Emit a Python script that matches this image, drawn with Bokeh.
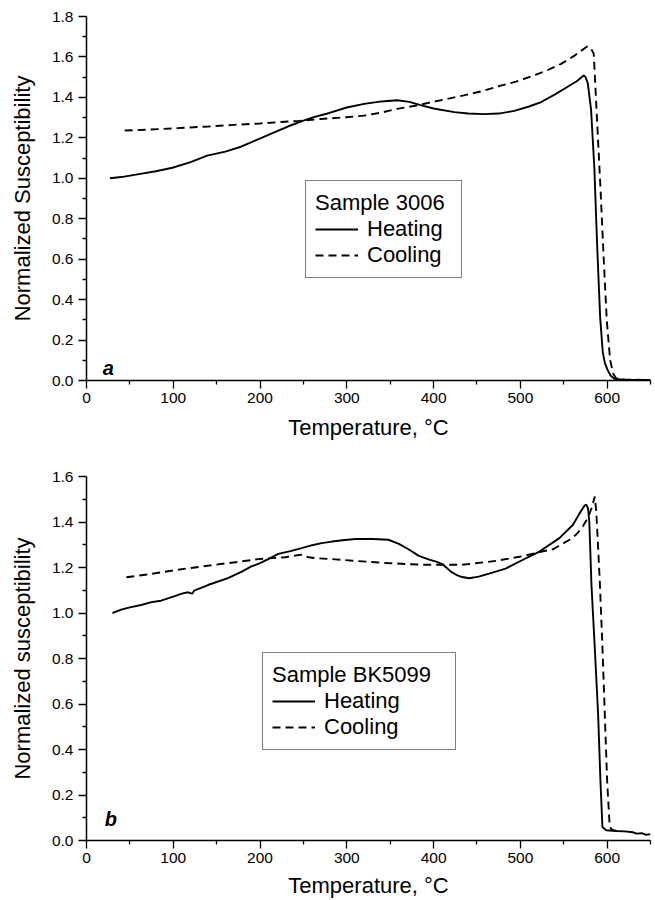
from bokeh.plotting import figure
from bokeh.models import Legend, LegendItem, Label, FixedTicker, PrintfTickFormatter
from bokeh.layouts import column
from bokeh.embed import file_html
from bokeh.resources import INLINE

# ---------------- Data: panel a (Sample 3006) ----------------
a_heat_T = [27, 40, 62, 80, 99, 120, 139, 160, 178, 199, 215, 232, 250, 262, 280, 300,
            320, 340, 358, 372, 385, 400, 424, 440, 458, 475, 493, 510, 524, 540, 555, 565,
            573, 575, 577.7, 581.5, 585.3, 588.4, 592, 595, 597.5, 600.8, 604, 608.4, 620, 650]
a_heat_y = [1.000, 1.006, 1.022, 1.035, 1.052, 1.080, 1.112, 1.132, 1.156, 1.195, 1.225,
            1.256, 1.285, 1.302, 1.323, 1.350, 1.368, 1.380, 1.386, 1.378, 1.362, 1.345,
            1.327, 1.320, 1.317, 1.320, 1.333, 1.355, 1.377, 1.415, 1.454, 1.480, 1.508,
            1.502, 1.470, 1.340, 1.050, 0.680, 0.310, 0.140, 0.085, 0.050, 0.025, 0.008,
            0.004, 0.003]

a_cool_T = [44, 70, 105, 140, 170, 200, 220, 245, 270, 300, 320, 340, 358, 380, 397, 415,
            435, 455, 474, 495, 512, 530, 547, 562, 577, 581, 584.6, 588.4, 592.3, 595.8,
            599.6, 603.5, 607, 610, 620, 650]
a_cool_y = [1.236, 1.240, 1.248, 1.256, 1.264, 1.271, 1.277, 1.284, 1.293, 1.302, 1.310,
            1.325, 1.343, 1.360, 1.376, 1.392, 1.410, 1.430, 1.454, 1.478, 1.503, 1.532,
            1.566, 1.605, 1.652, 1.645, 1.616, 1.286, 0.956, 0.626, 0.297, 0.100, 0.035,
            0.012, 0.004, 0.003]

# ---------------- Data: panel b (Sample BK5099) ----------------
b_heat_T = [30, 40, 50, 63, 75, 86, 100, 110, 117, 120, 122, 124, 140, 163, 179, 190, 200,
            210, 221, 235, 248, 260, 271, 283, 295, 310, 330, 348, 360, 372, 383, 395, 403,
            410, 414, 420, 426, 433, 441, 452, 464, 483, 503, 522, 545, 560.7, 568.4, 574,
            576, 578, 579.5, 582, 585.7, 589.6, 592.3, 594.6, 599, 610, 620, 630, 634, 640,
            645, 650]
b_heat_y = [1.000, 1.015, 1.025, 1.035, 1.048, 1.054, 1.072, 1.085, 1.091, 1.087, 1.086,
            1.098, 1.123, 1.153, 1.182, 1.205, 1.219, 1.238, 1.260, 1.272, 1.285, 1.298,
            1.307, 1.314, 1.320, 1.325, 1.325, 1.322, 1.304, 1.278, 1.251, 1.235, 1.226,
            1.215, 1.202, 1.182, 1.168, 1.158, 1.153, 1.160, 1.173, 1.195, 1.234, 1.270,
            1.329, 1.388, 1.439, 1.472, 1.476, 1.460, 1.400, 1.120, 0.852, 0.558, 0.264,
            0.059, 0.045, 0.042, 0.040, 0.036, 0.030, 0.032, 0.025, 0.028]

b_cool_T = [46, 75, 105, 148, 175, 198, 229, 240, 248, 256, 264, 283, 310, 349, 387, 433,
            472, 503, 522, 537.5, 556.8, 564.5, 572, 578, 582, 585.8, 587.6, 591.5, 594.6,
            597.3, 600, 603, 606, 612]
b_cool_y = [1.157, 1.172, 1.190, 1.212, 1.225, 1.237, 1.245, 1.252, 1.256, 1.245, 1.241,
            1.237, 1.229, 1.219, 1.212, 1.212, 1.229, 1.250, 1.268, 1.280, 1.322, 1.345,
            1.380, 1.420, 1.460, 1.512, 1.440, 1.145, 0.852, 0.558, 0.264, 0.060, 0.046,
            0.042]

x_major = [0, 100, 200, 300, 400, 500, 600]
x_minor = [50, 150, 250, 350, 450, 550, 650]
a_y_major = [0.0, 0.2, 0.4, 0.6, 0.8, 1.0, 1.2, 1.4, 1.6, 1.8]
a_y_minor = [0.1, 0.3, 0.5, 0.7, 0.9, 1.1, 1.3, 1.5, 1.7]
b_y_major = [0.0, 0.2, 0.4, 0.6, 0.8, 1.0, 1.2, 1.4, 1.6]
b_y_minor = [0.1, 0.3, 0.5, 0.7, 0.9, 1.1, 1.3, 1.5]

FONT = "Liberation Sans"


def make_panel(heat_T, heat_y, cool_T, cool_y, ymax, ymaj, ymin, ylabel, title,
               leg_loc, leg_label_w, tag, tag_xy, top, bottom, x_std, xl_std):
    p = figure(frame_width=564, frame_height=364, x_range=(0, 650), y_range=(0, ymax),
               output_backend="svg", toolbar_location=None,
               min_border_left=86, min_border_right=5,
               min_border_top=top, min_border_bottom=bottom)
    p.outline_line_color = None
    p.grid.visible = False
    p.background_fill_color = "white"

    p.xaxis.ticker = FixedTicker(ticks=x_major, minor_ticks=x_minor)
    p.yaxis.ticker = FixedTicker(ticks=ymaj, minor_ticks=ymin)
    p.xaxis.formatter = PrintfTickFormatter(format="%d")
    p.yaxis.formatter = PrintfTickFormatter(format="%.1f")
    for ax in (p.xaxis, p.yaxis):
        ax.axis_line_width = 1.5
        ax.axis_line_color = "black"
        ax.major_tick_line_color = "black"
        ax.minor_tick_line_color = "black"
        ax.major_tick_line_width = 1.3
        ax.minor_tick_line_width = 1.3
        ax.major_tick_in = 0
        ax.major_tick_out = 8
        ax.minor_tick_in = 0
        ax.minor_tick_out = 4
        ax.major_label_text_font = FONT
        ax.major_label_text_font_size = "15.5px"
        ax.major_label_text_color = "black"
        ax.axis_label_text_font = FONT
        ax.axis_label_text_font_style = "normal"
        ax.axis_label_text_color = "black"
        ax.axis_label_text_font_size = "22px"
    p.xaxis.axis_label = "Temperature, °C"
    p.xaxis.major_label_standoff = x_std
    p.xaxis.axis_label_standoff = xl_std
    p.yaxis.axis_label = ylabel
    p.yaxis.major_label_standoff = 5
    p.yaxis.axis_label_standoff = 14

    r_h = p.line(heat_T, heat_y, line_color="black", line_width=1.9)
    r_c = p.line(cool_T, cool_y, line_color="black", line_width=1.9, line_dash="8 5")

    legend = Legend(items=[LegendItem(label="Heating", renderers=[r_h]),
                           LegendItem(label="Cooling", renderers=[r_c])],
                    title=title, location=leg_loc)
    legend.title_text_font = FONT
    legend.title_text_font_size = "22px"
    legend.title_text_font_style = "normal"
    legend.title_text_color = "black"
    legend.title_standoff = 0
    legend.label_text_font = FONT
    legend.label_text_font_size = "22px"
    legend.label_text_color = "black"
    legend.glyph_width = 43
    legend.glyph_height = 18
    legend.label_height = 18
    legend.label_width = leg_label_w
    legend.label_standoff = 9
    legend.spacing = 0
    legend.padding = 9
    legend.margin = 0
    legend.border_line_color = "black"
    legend.border_line_width = 1
    legend.background_fill_color = "white"
    legend.background_fill_alpha = 1.0
    p.add_layout(legend)

    p.add_layout(Label(x=tag_xy[0], y=tag_xy[1], text=tag, text_font=FONT,
                       text_font_size="20px", text_font_style="bold italic",
                       text_align="center", text_baseline="alphabetic",
                       text_color="black"))
    return p


p1 = make_panel(a_heat_T, a_heat_y, a_cool_T, a_cool_y, 1.8, a_y_major, a_y_minor,
                "Normalized Susceptibility", "Sample 3006", (219, 102), 85, "a", (25, 0.064),
                16, 62, 4, 9)
p2 = make_panel(b_heat_T, b_heat_y, b_cool_T, b_cool_y, 1.6, b_y_major, b_y_minor,
                "Normalized susceptibility", "Sample BK5099", (176, 90), 122, "b", (28, 0.095),
                34, 58, 4, 7)

layout = column(p1, p2, spacing=0)
open("out.html", "w").write(file_html(layout, INLINE))
